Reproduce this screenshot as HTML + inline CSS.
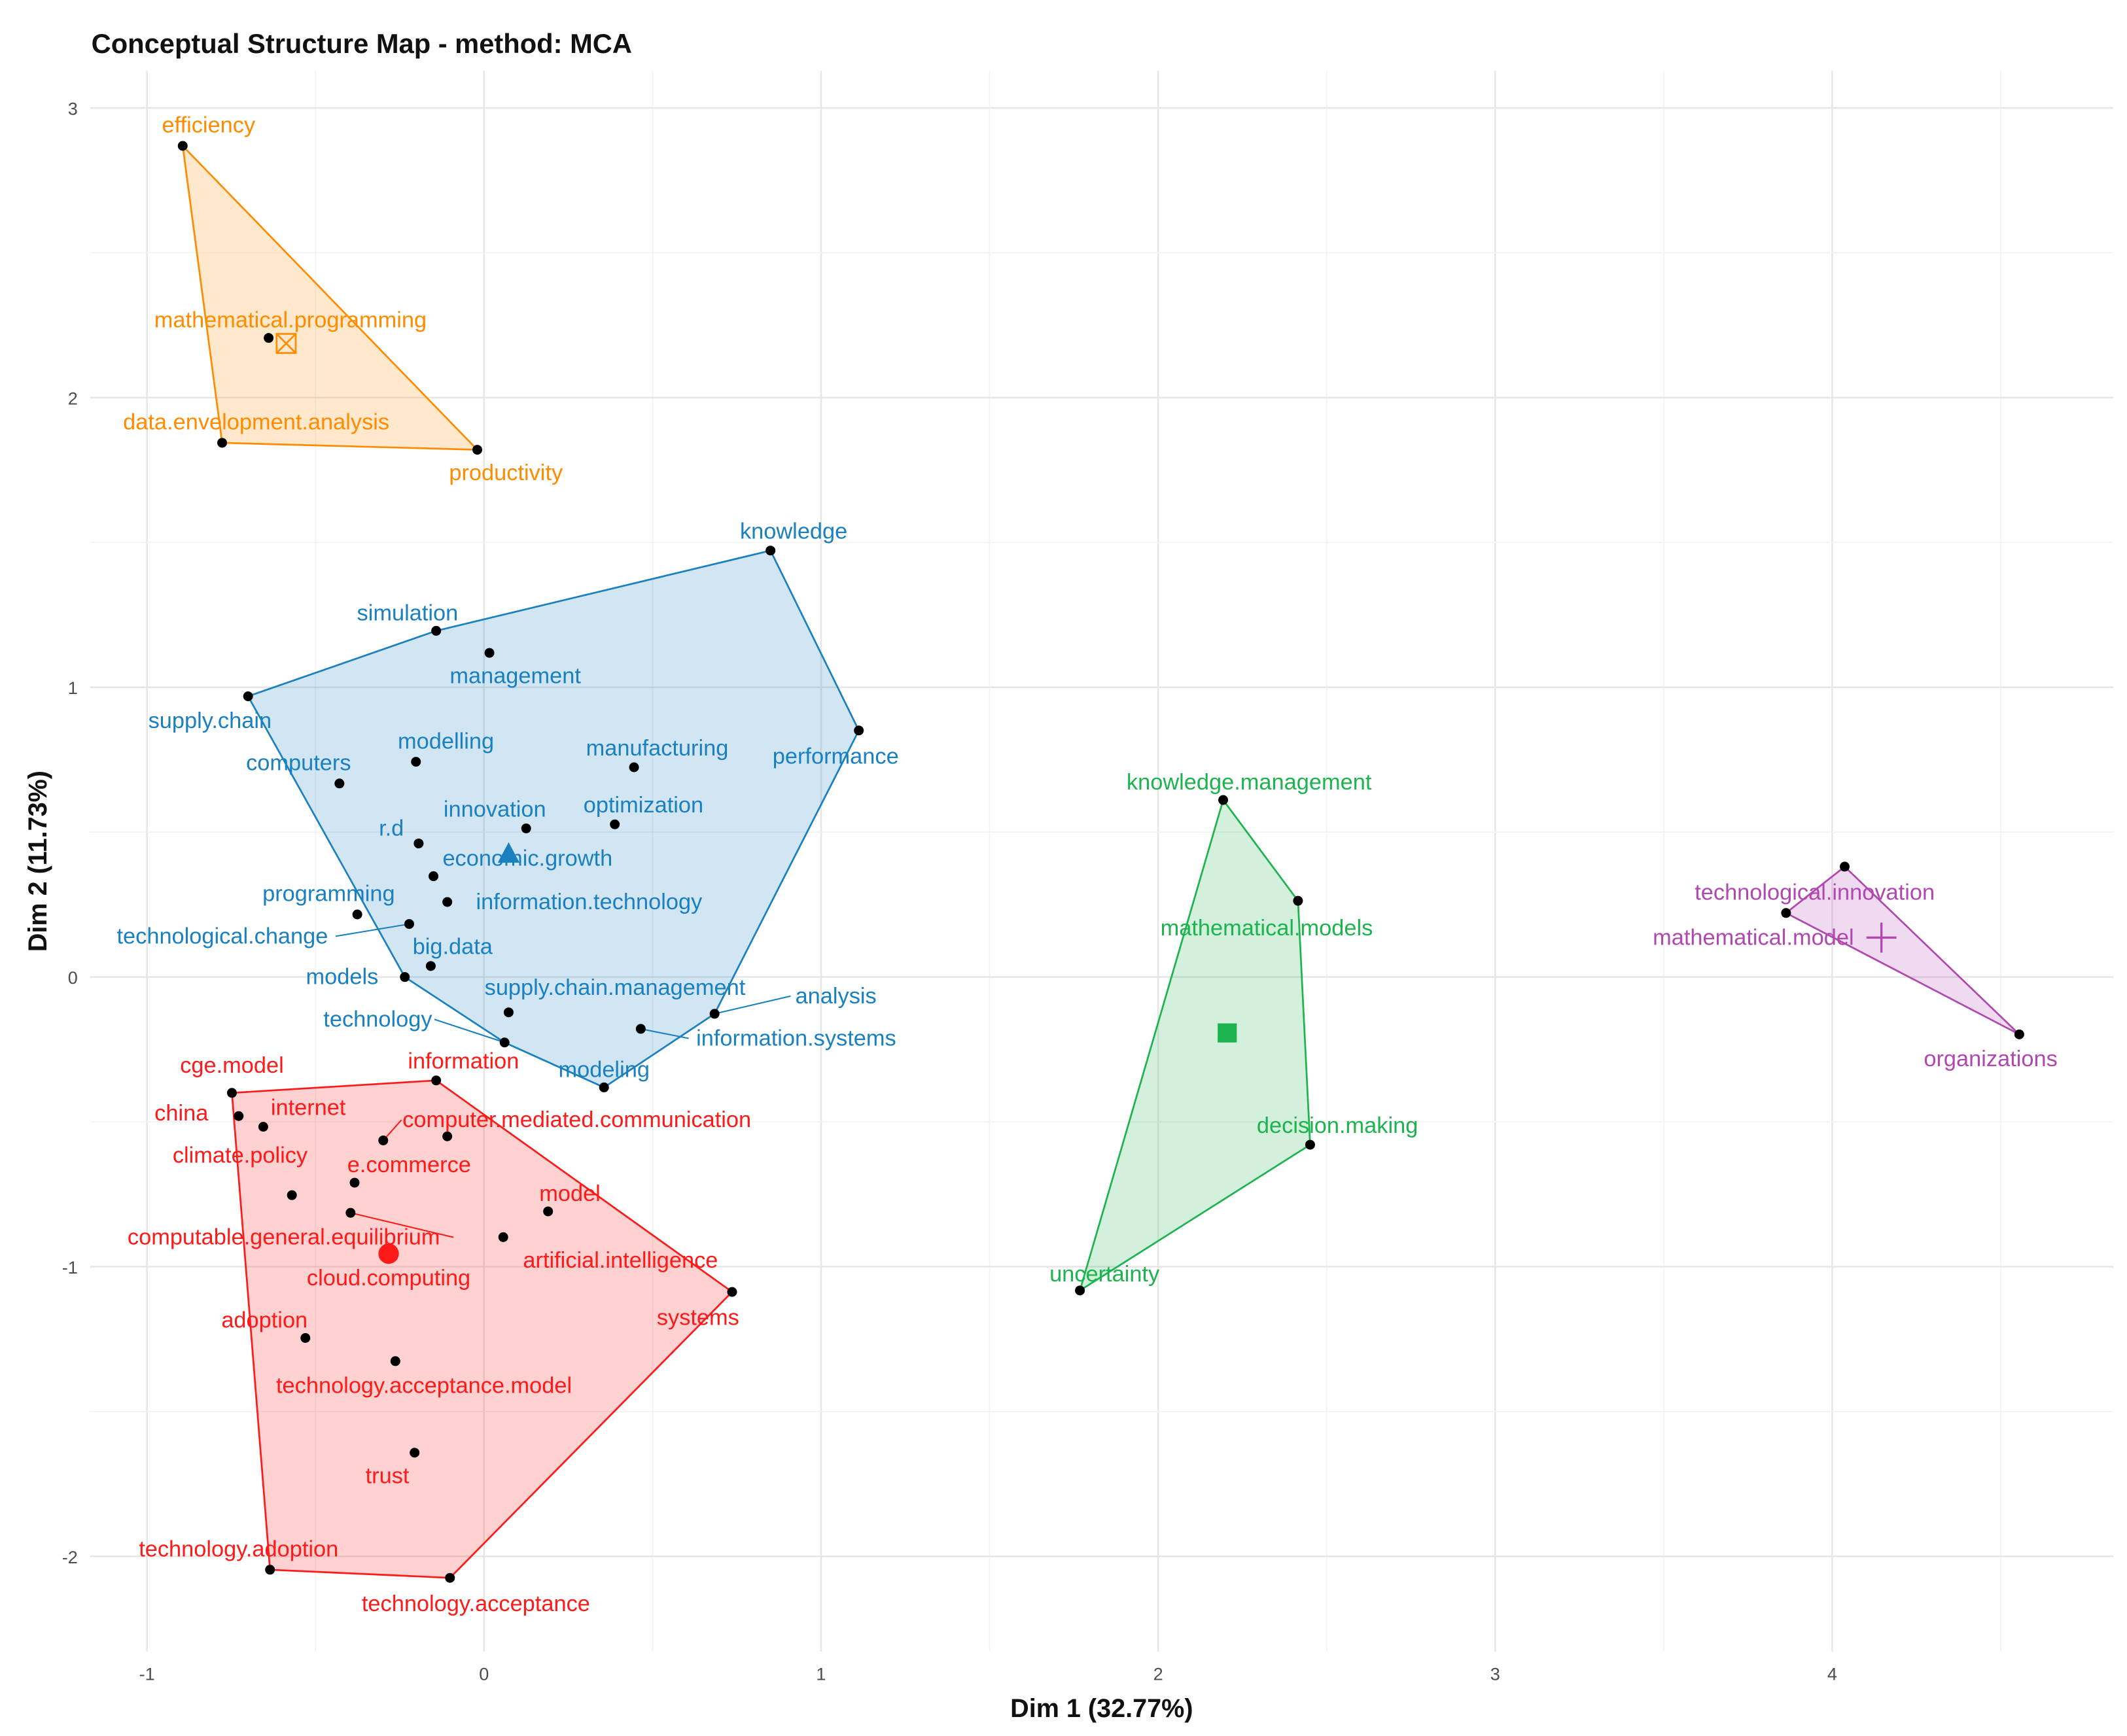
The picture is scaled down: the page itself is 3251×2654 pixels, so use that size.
<!DOCTYPE html>
<html><head><meta charset="utf-8">
<style>
html,body{margin:0;padding:0;background:#fff;}
svg{display:block;font-family:"Liberation Sans",Arial,sans-serif;}
</style></head>
<body>
<svg id="chart" width="3251" height="2654" viewBox="0 0 1560 1274" preserveAspectRatio="none" xmlns="http://www.w3.org/2000/svg">
<rect x="0" y="0" width="1560" height="1274" fill="#fff"/>
<g id="grid"></g>
<g id="hulls"></g>
<g id="leaders"></g>
<g id="points"></g>
<g id="labels"></g>
<text x="67" y="39" font-size="20" font-weight="bold" fill="#111">Conceptual Structure Map - method: MCA</text>
<text x="808" y="1260" font-size="19" font-weight="bold" text-anchor="middle" fill="#111">Dim 1 (32.77%)</text>
<text transform="translate(34,632) rotate(-90)" font-size="19" font-weight="bold" text-anchor="middle" fill="#111">Dim 2 (11.73%)</text>
</svg>
<script>
// ---- data ----
const xTicks = [-1, 0, 1, 2, 3, 4];
const yTicks = [-2, -1, 0, 1, 2, 3];
const clusterNames = ["orange", "blue", "red", "green", "purple"];
const clusterColors = ["#ff8c00", "#1a80c0", "#ff1a1a", "#1db34f", "#b048b0"];
const termNames = ["efficiency","mathematical.programming","data.envelopment.analysis","productivity",
 "knowledge","simulation","management","supply.chain","performance","modelling","manufacturing","computers","optimization","innovation","r.d","economic.growth","information.technology","programming","technological.change","big.data","models","supply.chain.management","analysis","information.systems","technology","modeling",
 "cge.model","china","internet","information","computer.mediated.communication","e.commerce","climate.policy","model","computable.general.equilibrium","cloud.computing","artificial.intelligence","systems","adoption","technology.acceptance.model","trust","technology.adoption","technology.acceptance",
 "knowledge.management","mathematical.models","decision.making","uncertainty",
 "technological.innovation","mathematical.model","organizations"];
const termX = [-0.894,-0.639,-0.777,-0.020,
 0.850,-0.142,0.016,-0.700,1.112,-0.202,0.445,-0.429,0.388,0.125,-0.194,-0.150,-0.109,-0.376,-0.222,-0.158,-0.235,0.073,0.684,0.465,0.061,0.356,
 -0.748,-0.728,-0.655,-0.142,-0.299,-0.384,-0.570,0.190,-0.396,-0.109,0.057,0.736,-0.530,-0.263,-0.206,-0.635,-0.101,
 2.193,2.415,2.451,1.768,
 4.037,3.863,4.555];
const termY = [2.869,2.206,1.844,1.820,
 1.472,1.195,1.119,0.969,0.851,0.743,0.724,0.668,0.527,0.513,0.461,0.348,0.259,0.216,0.183,0.038,0.000,-0.122,-0.127,-0.179,-0.226,-0.381,
 -0.400,-0.480,-0.517,-0.357,-0.564,-0.710,-0.753,-0.809,-0.814,-0.550,-0.898,-1.087,-1.246,-1.326,-1.642,-2.046,-2.074,
 0.611,0.263,-0.579,-1.082,
 0.381,0.221,-0.198];
const termCluster = [0,0,0,0, 1,1,1,1,1,1,1,1,1,1,1,1,1,1,1,1,1,1,1,1,1,1, 2,2,2,2,2,2,2,2,2,2,2,2,2,2,2,2,2, 3,3,3,3, 4,4,4];
const hullOrange = ["efficiency","productivity","data.envelopment.analysis"];
const hullBlue = ["supply.chain","simulation","knowledge","performance","analysis","modeling","technology","models"];
const hullRed = ["cge.model","information","systems","technology.acceptance","technology.adoption"];
const hullGreen = ["knowledge.management","mathematical.models","decision.making","uncertainty"];
const hullPurple = ["technological.innovation","organizations","mathematical.model"];
const centroidX = [-0.587, 0.073, -0.283, 2.205, 4.146];
const centroidY = [2.187, 0.423, -0.955, -0.193, 0.136];
// label offsets (display px) relative to point
const labelDX = [19,16,25,21, 17,-21,19,-28,-17,22,17,-30,21,-23,-20,69,104,-21,-137,16,-46,78,89,114,-93,0,
 0,-42,33,20,142,40,-38,16,-49,-43,86,-25,-30,21,-20,-23,19,
 19,-23,20,18, -22,-24,-21];
const labelDY = [-15,-13,-15,17, -14,-13,17,18,19,-15,-14,-15,-14,-14,-11,-13,0,-15,9,-14,0,-18,-13,7,-17,-13,
 -20,-2,-14,-14,-15,-13,-29,-13,18,104,17,19,-13,18,17,-15,19,
 -13,20,-14,-12, 19,18,18];
const leaderTerms = ["technological.change","technology","analysis","information.systems","computer.mediated.communication","computable.general.equilibrium"];

// ---- axes ----
const X0 = 355, XS = 247.2, Y0 = 717, YS = 212.6;
const sx = v => X0 + v * XS;
const sy = v => Y0 - v * YS;
const NS = "http://www.w3.org/2000/svg";
function mk(tag, attrs, parent){ const e=document.createElementNS(NS,tag); for(const k in attrs) e.setAttribute(k,attrs[k]); parent.appendChild(e); return e; }

const grid = document.getElementById('grid');
const L=66, R=1550, T=52, B=1212;
for (let v=-1.5; v<=4.75; v+=0.5){ const x=sx(v); if(x<L||x>R) continue;
  const ln=mk('line',{x1:x,x2:x,y1:T,y2:B,stroke:Number.isInteger(v)?'#e6e6e6':'#f2f2f2','stroke-width':Number.isInteger(v)?1.2:0.8},grid);
    }
for (let v=-2.5; v<=3.25; v+=0.5){ const y=sy(v); if(y<T||y>B) continue;
  const ln=mk('line',{x1:L,x2:R,y1:y,y2:y,stroke:Number.isInteger(v)?'#e6e6e6':'#f2f2f2','stroke-width':Number.isInteger(v)?1.2:0.8},grid);
    }
xTicks.forEach(v=>{ const t=mk('text',{x:sx(v),y:1233,'font-size':13,fill:'#4d4d4d','text-anchor':'middle'},grid); t.textContent=v;
    });
yTicks.forEach(v=>{ const t=mk('text',{x:57,y:sy(v)+5,'font-size':13,fill:'#4d4d4d','text-anchor':'end'},grid); t.textContent=v;
    });

const idx = n => termNames.indexOf(n);
const hulls = document.getElementById('hulls');
[hullOrange,hullBlue,hullRed,hullGreen,hullPurple].forEach((h,ci)=>{
  const pts=h.map(n=>{const i=idx(n);return sx(termX[i])+','+sy(termY[i]);}).join(' ');
  const p=mk('polygon',{points:pts,fill:clusterColors[ci],'fill-opacity':0.2,stroke:clusterColors[ci],'stroke-width':1.3},hulls);
   
});

const leaders=document.getElementById('leaders');
leaderTerms.forEach(n=>{ const i=idx(n); const c=clusterColors[termCluster[i]];
  const x=sx(termX[i]), y=sy(termY[i]); const lx=x+labelDX[i], ly=y+labelDY[i];
  const w=n.length*8.3/2; const ex = lx> x ? lx-w : lx+w;
  const l=mk('line',{x1:x,y1:y,x2:ex,y2:ly,stroke:c,'stroke-width':1},leaders);
    });

const pg=document.getElementById('points'), lg=document.getElementById('labels');
termNames.forEach((n,i)=>{
  const x=sx(termX[i]), y=sy(termY[i]);
  const c=mk('circle',{cx:x,cy:y,r:3.6,fill:'#000'},pg);
   
  const t=mk('text',{x:x+labelDX[i],y:y+labelDY[i],'font-size':16.5,fill:clusterColors[termCluster[i]],'text-anchor':'middle','dominant-baseline':'central'},lg);
  t.textContent=n;
   
});

// centroids
centroidX.forEach((v,ci)=>{
  const x=sx(v), y=sy(centroidY[ci]), c=clusterColors[ci]; let e;
  if(ci===0){ e=mk('g',{},pg); mk('rect',{x:x-7,y:y-7,width:14,height:14,fill:'none',stroke:c,'stroke-width':1.3},e);
    mk('path',{d:`M${x-7} ${y-7}L${x+7} ${y+7}M${x+7} ${y-7}L${x-7} ${y+7}`,stroke:c,'stroke-width':1.3},e); }
  else if(ci===1){ e=mk('polygon',{points:`${x},${y-9} ${x-8},${y+6} ${x+8},${y+6}`,fill:c},pg); }
  else if(ci===2){ e=mk('circle',{cx:x,cy:y,r:7.5,fill:c},pg); }
  else if(ci===3){ e=mk('rect',{x:x-7,y:y-7,width:14,height:14,fill:c},pg); }
  else { e=mk('path',{d:`M${x-11} ${y}L${x+11} ${y}M${x} ${y-11}L${x} ${y+11}`,stroke:c,'stroke-width':1.6},pg); }
   
});
</script>
</body></html>
